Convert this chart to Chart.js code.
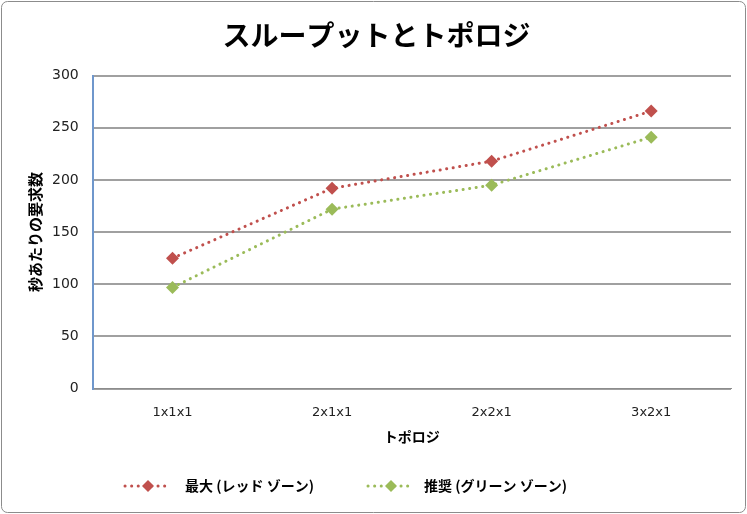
<!DOCTYPE html>
<html>
<head>
<meta charset="utf-8">
<script src="https://cdn.jsdelivr.net/npm/chart.js@4"></script>
<style>
  html, body { margin: 0; padding: 0; background: #fff; }
  #wrap { width: 747px; height: 514px; position: relative; }
</style>
</head>
<body>
<div id="wrap"><canvas id="chart"></canvas></div>
<script>
const topologies = ['1x1x1', '2x1x1', '2x2x1', '3x2x1'];
const maxRed = [125, 192, 218, 266];
const recommendedGreen = [97, 172, 195, 241];
const seriesNames = ['最大 (レッド ゾーン)', '推奨 (グリーン ゾーン)'];
const yTicks = [0, 50, 100, 150, 200, 250, 300];

const jp = '"Noto Sans CJK JP", "Noto Sans", sans-serif';
const red = '#C0504D';
const green = '#9BBB59';

// frame around the whole chart + legend drawn like Excel (dotted line with diamond)
const frameAndLegend = {
  id: 'frameAndLegend',
  beforeDraw(chart) {
    const c = chart.ctx;
    c.save();
    c.fillStyle = '#fff';
    c.fillRect(0, 0, chart.width, chart.height);
    c.restore();
  },
  afterDraw(chart) {
    const c = chart.ctx;
    c.save();
    c.strokeStyle = '#8c8c8c';
    c.lineWidth = 1;
    c.beginPath();
    c.roundRect(1.5, 1.5, chart.width - 3, chart.height - 3, 6);
    c.stroke();

    const y = 486;
    const starts = [125, 368];
    const textAt = [185, 424];
    chart.data.datasets.forEach((ds, i) => {
      const x0 = starts[i];
      c.strokeStyle = ds.borderColor;
      c.lineWidth = 3;
      c.lineCap = 'round';
      c.setLineDash([0.1, 6.5]);
      c.beginPath();
      c.moveTo(x0, y);
      c.lineTo(x0 + 45, y);
      c.stroke();
      c.setLineDash([]);
      c.fillStyle = ds.backgroundColor;
      c.beginPath();
      c.moveTo(x0 + 23, y - 6);
      c.lineTo(x0 + 29, y);
      c.lineTo(x0 + 23, y + 6);
      c.lineTo(x0 + 17, y);
      c.closePath();
      c.fill();
      c.fillStyle = '#000';
      c.font = 'bold 14px ' + jp;
      c.textBaseline = 'middle';
      c.fillText(ds.label, textAt[i], y);
    });
    c.restore();
  }
};

new Chart(document.getElementById('chart'), {
  type: 'line',
  data: {
    labels: topologies,
    datasets: [
      {
        label: seriesNames[0],
        data: maxRed,
        borderColor: red,
        backgroundColor: red,
        borderWidth: 3,
        borderDash: [0.1, 6.5],
        borderCapStyle: 'round',
        pointStyle: 'rectRot',
        pointRadius: 6.5,
        pointBorderWidth: 0,
        tension: 0
      },
      {
        label: seriesNames[1],
        data: recommendedGreen,
        borderColor: green,
        backgroundColor: green,
        borderWidth: 3,
        borderDash: [0.1, 6.5],
        borderCapStyle: 'round',
        pointStyle: 'rectRot',
        pointRadius: 6.5,
        pointBorderWidth: 0,
        tension: 0
      }
    ]
  },
  options: {
    responsive: true,
    maintainAspectRatio: false,
    animation: false,
    layout: { padding: { left: 22, right: 16, top: 10, bottom: 65 } },
    plugins: {
      legend: { display: false },
      tooltip: { enabled: false },
      title: {
        display: true,
        text: 'スループットとトポロジ',
        color: '#000',
        font: { family: jp, size: 28, weight: 'bold' },
        padding: { top: 9, bottom: 23 }
      }
    },
    scales: {
      x: {
        offset: true,
        grid: { display: false, drawTicks: false },
        border: { color: '#8c8c8c', width: 1 },
        ticks: { color: '#222', font: { family: 'DejaVu Sans', size: 13 }, padding: 16 },
        title: {
          display: true,
          text: 'トポロジ',
          color: '#000',
          font: { family: jp, size: 14, weight: 'bold' },
          padding: { top: -8 }
        }
      },
      y: {
        min: 0,
        max: 300,
        afterBuildTicks: (axis) => { axis.ticks = yTicks.map(v => ({ value: v })); },
        grid: { color: '#a0a0a0', lineWidth: 2, drawTicks: false },
        border: { color: '#6f97cc', width: 2, display: true },
        ticks: { color: '#222', font: { family: 'DejaVu Sans', size: 14 }, padding: 14 },
        title: {
          display: true,
          text: '秒あたりの要求数',
          color: '#000',
          font: { family: jp, size: 15, weight: 'bold' },
          padding: { bottom: -6 }
        }
      }
    }
  },
  plugins: [frameAndLegend]
});
</script>
</body>
</html>
